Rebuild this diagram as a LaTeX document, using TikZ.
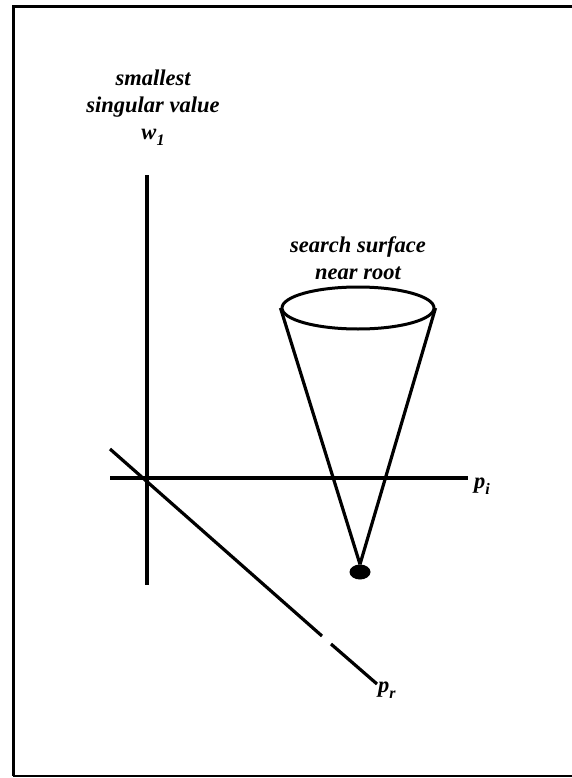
\documentclass[tikz,border=0pt]{standalone}
\usepackage{fontspec}
\setmainfont{Liberation Serif}
\usetikzlibrary{positioning,shapes.geometric}

\newcommand{\lowsub}[1]{\raisebox{-0.55ex}{\fontsize{16}{16}\selectfont #1}}

\begin{document}
\begin{tikzpicture}[
    x=1pt, y=-1pt,
    axis/.style={line width=3.2pt},
    frame/.style={line width=3pt},
    lbl/.style={font=\bfseries\itshape\fontsize{22.5}{27}\selectfont, align=center, inner sep=0pt},
    surf/.style={draw, ellipse, line width=3pt, minimum width=152pt, minimum height=42pt, inner sep=0pt},
    rootdot/.style={fill, ellipse, minimum width=21pt, minimum height=15pt, inner sep=0pt}
  ]
    \useasboundingbox (0,0) rectangle (572,778);
    % frame, open on the right
    \draw[frame] (572,7) -- (13,7) -- (13,776);
    \draw[line width=1.8pt] (13,776) -- (572,776);

    % axes
    \coordinate (vtop) at (147,175);
    \coordinate (vbot) at (147,585);
    \coordinate (hl) at (110,478);
    \coordinate (hr) at (468,478);
    \coordinate (dl) at (110,449);
    \coordinate (dgapa) at (322,636);
    \coordinate (dgapb) at (331,644);
    \coordinate (dr) at (377,684);
    \draw[axis] (vtop) -- (vbot);
    \draw[axis] (hl) -- (hr);
    \draw[axis] (dl) -- (dgapa);
    \draw[axis] (dgapb) -- (dr);

    \node[lbl] (wlab) at (153,108) {smallest\\singular value\\w\lowsub{1}};
    \node[lbl, anchor=west] (pi) at (474,486) {p\lowsub{i}};
    \node[lbl, anchor=north west] (pr) at (378,682) {p\lowsub{r}};

    % cone
    \node[surf] (surf) at (358,308) {};
    \node[rootdot] (root) at (360,572) {};
    \node[lbl, above=6pt of surf] (slab) {search surface\\near root};
    \draw[axis] (surf.west) -- (root.north);
    \draw[axis] (surf.east) -- (root.north);
  \end{tikzpicture}
\end{document}
